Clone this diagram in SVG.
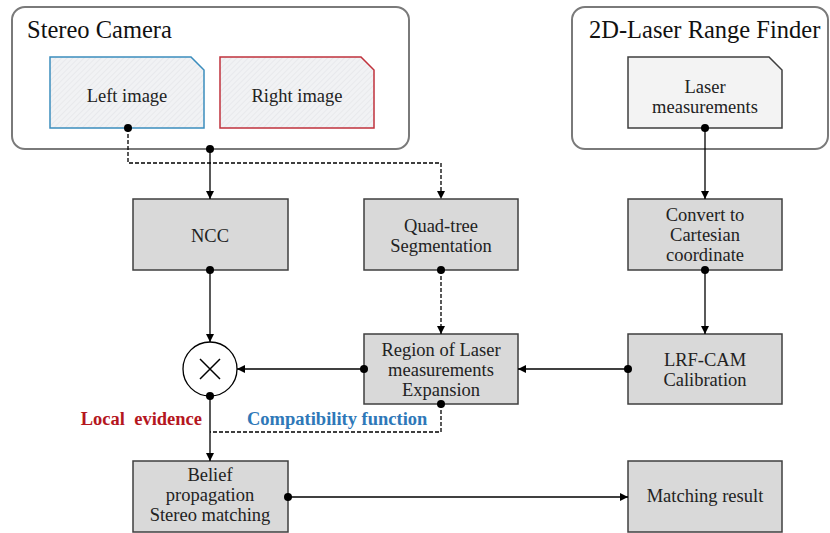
<svg xmlns="http://www.w3.org/2000/svg" width="830" height="533" viewBox="0 0 830 533">
<defs>
<pattern id="hatch" width="4" height="4" patternUnits="userSpaceOnUse" patternTransform="rotate(45)">
<rect width="4" height="4" fill="#f1f2f4"/>
<line x1="0" y1="0" x2="0" y2="4" stroke="#dfe1e4" stroke-width="1"/>
</pattern>
<marker id="arr" viewBox="0 0 10 10" refX="10" refY="5" markerWidth="8" markerHeight="8" markerUnits="userSpaceOnUse" orient="auto">
<path d="M0,0 L10,5 L0,10 z" fill="#000"/>
</marker>
<marker id="dot" viewBox="0 0 10 10" refX="5" refY="5" markerWidth="8" markerHeight="8" markerUnits="userSpaceOnUse">
<circle cx="5" cy="5" r="5" fill="#000"/>
</marker>
</defs>
<style>
.outer{fill:#fff;stroke:#7a7a7a;stroke-width:2}
.box{fill:#d9d9d9;stroke:#3f3f3f;stroke-width:1.5}
.t{font-family:"Liberation Serif",serif;font-size:18.5px;fill:#222;text-anchor:middle}
.title{font-family:"Liberation Serif",serif;font-size:24.5px;fill:#111}
.c{fill:none;stroke:#000;stroke-width:1.3}
.d{stroke-dasharray:4,2}
.lab{font-family:"Liberation Serif",serif;font-size:18.5px;font-weight:bold;white-space:pre}
</style>
<g id="stereo-camera">
<rect class="outer" x="12" y="7" width="397" height="142" rx="13"/>
<text class="title" x="27" y="38">Stereo Camera</text>
</g>
<g id="left-image">
<path d="M50,57 H191 L204,70 V128 H50 Z" fill="url(#hatch)" stroke="#3b8dbd" stroke-width="1.5"/>
<text class="t" x="127" y="102">Left image</text>
</g>
<g id="right-image">
<path d="M220,57 H361 L374,70 V128 H220 Z" fill="url(#hatch)" stroke="#c0323c" stroke-width="1.5"/>
<text class="t" x="297" y="102">Right image</text>
</g>
<g id="lrf">
<rect class="outer" x="572" y="7" width="256" height="142" rx="13"/>
<text class="title" x="589" y="38">2D-Laser Range Finder</text>
</g>
<g id="laser-measurements">
<path d="M628,57 H769 L782,70 V128 H628 Z" fill="#f3f3f3" stroke="#3f3f3f" stroke-width="1.5"/>
<text class="t" x="705" y="93">Laser</text>
<text class="t" x="705" y="113">measurements</text>
</g>
<g id="ncc">
<rect class="box" x="133" y="199" width="155" height="71"/>
<text class="t" x="210" y="242">NCC</text>
</g>
<g id="quadtree">
<rect class="box" x="364" y="199" width="154" height="71"/>
<text class="t" x="441" y="232">Quad-tree</text>
<text class="t" x="441" y="252">Segmentation</text>
</g>
<g id="convert">
<rect class="box" x="628" y="199" width="154" height="71"/>
<text class="t" x="705" y="221">Convert to</text>
<text class="t" x="705" y="241">Cartesian</text>
<text class="t" x="705" y="261">coordinate</text>
</g>
<g id="product">
<circle cx="210" cy="369" r="27" fill="#fff" stroke="#000" stroke-width="1.3"/>
<path d="M200,359 L220,379 M220,359 L200,379" stroke="#000" stroke-width="1.5"/>
</g>
<g id="region">
<rect class="box" x="364" y="334" width="154" height="70"/>
<text class="t" x="441" y="356">Region of Laser</text>
<text class="t" x="441" y="376">measurements</text>
<text class="t" x="441" y="396">Expansion</text>
</g>
<g id="lrf-cam">
<rect class="box" x="628" y="334" width="154" height="70"/>
<text class="t" x="705" y="366">LRF-CAM</text>
<text class="t" x="705" y="386">Calibration</text>
</g>
<g id="belief">
<rect class="box" x="133" y="461" width="155" height="71"/>
<text class="t" x="210" y="481">Belief</text>
<text class="t" x="210" y="501">propagation</text>
<text class="t" x="210" y="521">Stereo matching</text>
</g>
<g id="matching">
<rect class="box" x="628" y="461" width="154" height="71"/>
<text class="t" x="705" y="502">Matching result</text>
</g>
<g id="connectors">
<path class="c d" d="M128,128 V163 H441 V199" marker-start="url(#dot)" marker-end="url(#arr)"/>
<path class="c" d="M210,149 V199" marker-start="url(#dot)" marker-end="url(#arr)"/>
<path class="c" d="M705,128 V199" marker-start="url(#dot)" marker-end="url(#arr)"/>
<path class="c" d="M210,270 V342" marker-start="url(#dot)" marker-end="url(#arr)"/>
<path class="c d" d="M441,270 V334" marker-start="url(#dot)" marker-end="url(#arr)"/>
<path class="c" d="M705,270 V334" marker-start="url(#dot)" marker-end="url(#arr)"/>
<path class="c" d="M628,369 H518" marker-start="url(#dot)" marker-end="url(#arr)"/>
<path class="c" d="M364,369 H237" marker-start="url(#dot)" marker-end="url(#arr)"/>
<path class="c" d="M210,396 V461" marker-start="url(#dot)" marker-end="url(#arr)"/>
<path class="c d" d="M441,404 V432 H210" marker-start="url(#dot)"/>
<path class="c" d="M288,497 H628" marker-start="url(#dot)" marker-end="url(#arr)"/>
<text class="lab" x="202" y="425" text-anchor="end" fill="#b5161e">Local  evidence</text>
<text class="lab" x="247" y="425" fill="#2e78b8">Compatibility function</text>
</g>
</svg>
